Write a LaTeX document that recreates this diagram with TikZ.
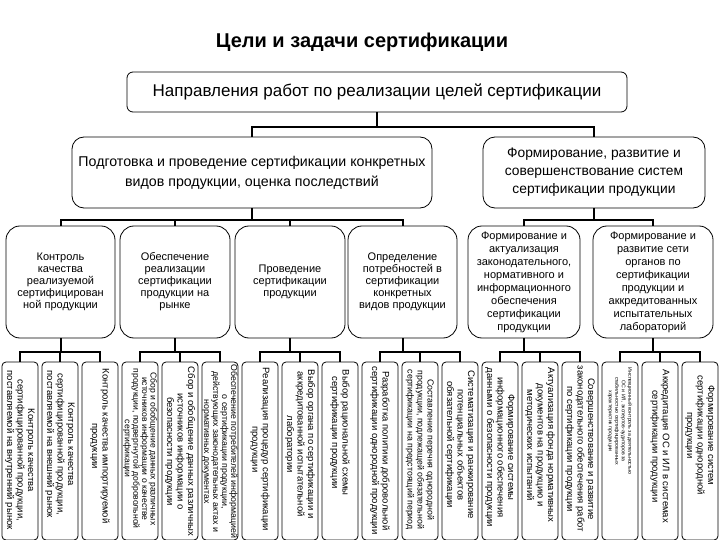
\documentclass[tikz,border=0pt]{standalone}
\usepackage{fontspec}
\setmainfont{Liberation Sans}
\usetikzlibrary{calc}
\begin{document}
\begin{tikzpicture}[x=1pt,y=-1pt,
  box/.style={draw, line width=0.8pt, rounded corners=#1, inner sep=0pt, align=center},
  conn/.style={line width=2pt},
  bbox/.style={draw, line width=0.8pt, rounded corners=4pt, minimum width=36pt, minimum height=178pt, inner sep=0pt},
  bt/.style={rotate=-90, anchor=west, align=center, inner sep=0pt, font={\fontsize{9.5}{10.5}\selectfont}},
  lthree/.style={box=14pt, minimum height=112pt, font={\fontsize{11}{12}\selectfont}},
  lthreeb/.style={box=14pt, minimum height=112pt, font={\fontsize{11}{13}\selectfont}}]
\useasboundingbox (0,0) rectangle (720,540);
\fill[white] (0,0) rectangle (720,540);

\node[font={\fontsize{20}{24}\selectfont\bfseries}] (title) at (362,42) {Цели и задачи сертификации};

\node[box=6pt, minimum width=500pt, minimum height=40pt, font={\fontsize{17}{20}\selectfont}] (top) at (377,92) {Направления работ по реализации целей сертификации};

\node[box=12pt, minimum width=360pt, minimum height=71pt, font={\fontsize{14.2}{20}\selectfont}] (l2a) at (252,172.5) {Подготовка и проведение сертификации конкретных\\видов продукции, оценка последствий};
\node[box=12pt, minimum width=222pt, minimum height=71pt, font={\fontsize{13.8}{18}\selectfont}] (l2b) at (594,172.5) {Формирование, развитие и\\совершенствование систем\\сертификации продукции};

\node[lthree, minimum width=109pt] (la) at (60.5,282) {Контроль\\качества\\реализуемой\\сертифицирован\\ной продукции};
\node[lthree, minimum width=110pt] (lb) at (175,282) {Обеспечение\\реализации\\сертификации\\продукции на\\рынке};
\node[lthree, minimum width=110pt] (lc) at (290,282) {Проведение\\сертификации\\продукции};
\node[lthree, minimum width=109pt] (ld) at (402.5,282) {Определение\\потребностей в\\сертификации\\конкретных\\видов продукции};
\node[lthreeb, minimum width=112pt] (le) at (524,282) {Формирование и\\актуализация\\законодательного,\\нормативного и\\информационного\\обеспечения\\сертификации\\продукции};
\node[lthreeb, minimum width=120pt] (lf) at (653,282) {Формирование и\\развитие сети\\органов по\\сертификации\\продукции и\\аккредитованных\\испытательных\\лабораторий};

\foreach \i in {0,...,17} {
  \node[bbox] (b\i) at (40*\i+20,451) {};
}

\node[bt] (t0) at ($(b0.north)+(0,9)$) {Контроль качества\\сертифицированной продукции,\\поставляемой на внутренний рынок};
\node[bt] (t1) at ($(b1.north)+(0,9)$) {Контроль качества\\сертифицированной продукции,\\поставляемой на внешний рынок};
\node[bt] (t2) at ($(b2.north)+(0,7)$) {Контроль качества импортируемой\\продукции};
\node[bt, font={\fontsize{8.6}{8.6}\selectfont}] (t3) at ($(b3.north)+(0,7)$) {Сбор и обобщение данных различных\\источников информации о качестве\\продукции, подвергнутой добровольной\\сертификации};
\node[bt] (t4) at ($(b4.north)+(0,5)$) {Сбор и обобщение данных различных\\источников информации о\\безопасности продукции};
\node[bt, font={\fontsize{8.8}{9}\selectfont}] (t5) at ($(b5.north)+(0,3)$) {Обеспечение потребителей информацией\\о сертификации продукции,\\действующих законодательных актах и\\нормативных документах};
\node[bt] (t6) at ($(b6.north)+(0,6)$) {Реализация процедур сертификации\\продукции};
\node[bt] (t7) at ($(b7.north)+(0,8)$) {Выбор органа по сертификации и\\аккредитованной испытательной\\лаборатории};
\node[bt] (t8) at ($(b8.north)+(0,8)$) {Выбор рациональной схемы\\сертификации продукции};
\node[bt] (t9) at ($(b9.north)+(0,5)$) {Разработка политики добровольной\\сертификации однородной продукции};
\node[bt, font={\fontsize{8.8}{10}\selectfont}] (t10) at ($(b10.north)+(0,8)$) {Составление перечня однородной\\продукции, подлежащей обязательной\\сертификации на предстоящий период};
\node[bt] (t11) at ($(b11.north)+(0,9)$) {Систематизация и ранжирование\\потенциальных объектов\\обязательной сертификации};
\node[bt] (t12) at ($(b12.north)+(0,6)$) {Формирование системы\\информационного обеспечения\\данными о безопасности продукции};
\node[bt] (t13) at ($(b13.north)+(0,6)$) {Актуализация фонда нормативных\\документов на продукцию и\\методических испытаний};
\node[bt] (t14) at ($(b14.north)+(0,4)$) {Совершенствование и развитие\\законодательного обеспечения работ\\по сертификации продукции};
\node[bt, font={\fontsize{5.2}{6.5}\selectfont}] (t15) at ($(b15.north)+(0,6)$) {Инспекционный контроль за деятельностью\\ОС и ИЛ, экспертов-аудиторов за\\стабильностью сертифицированных\\характеристик продукции};
\node[bt] (t16) at ($(b16.north)+(0,8)$) {Аккредитация ОС и ИЛ в системах\\сертификации продукции};
\node[bt] (t17) at ($(b17.north)+(0,14)$) {Формирование систем\\сертификации однородной\\продукции};

% connectors
\foreach \c in {l2a,l2b}
  \draw[conn] (top.south) -- (top.south |- 0,127) -| (\c.north);
\foreach \c in {la,lb,lc,ld}
  \draw[conn] (l2a.south) -- (l2a.south |- 0,220) -| (\c.north);
\foreach \c in {le,lf}
  \draw[conn] (l2b.south) -- (l2b.south |- 0,220) -| (\c.north);
\foreach \p/\a/\b/\c in {la/0/1/2, lb/3/4/5, lc/6/7/8, ld/9/10/11, le/12/13/14, lf/15/16/17}
  \foreach \k in {\a,\b,\c}
    \draw[conn] (\p.south) -- (\p.south |- 0,352) -| (b\k.north);
\end{tikzpicture}
\end{document}
